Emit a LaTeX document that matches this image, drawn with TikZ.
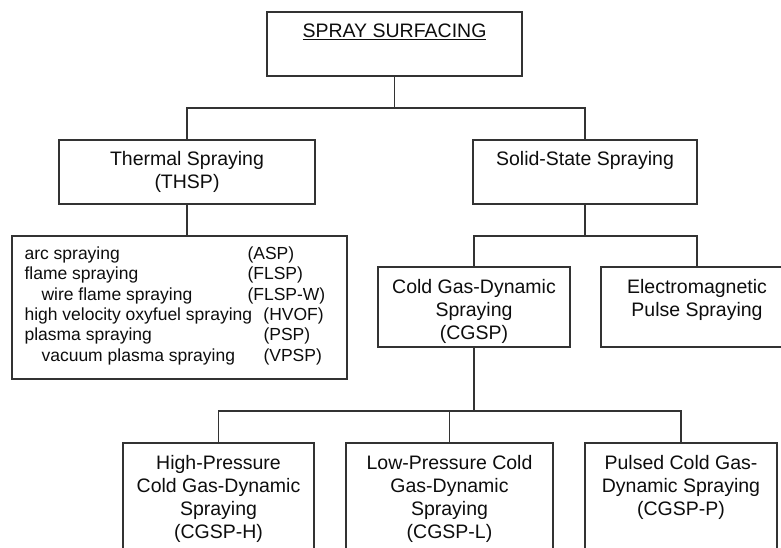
\documentclass[tikz,border=0pt]{standalone}
\usepackage{fontspec}
\setmainfont{Liberation Sans}
\usepackage{tikz}
\usetikzlibrary{positioning}

\newcommand{\boxfont}{\fontsize{19.5}{23}\selectfont}
\newcommand{\listfont}{\fontsize{17.5}{20.4}\selectfont}
\newcommand{\entry}[3]{\makebox[#1][l]{#2}#3}

\begin{document}
\begin{tikzpicture}[ x = 1pt, y = -1pt
                     , box/.style = { rectangle
                                    , draw = black!80
                                    , line width = 1.3pt
                                    , inner sep = 0pt }
                     , lbl/.style = { inner sep = 0pt
                                    , align = center
                                    , text = black!95
                                    , font = \boxfont }
                     , link/.style = { draw = black!80, line width = 1.3pt }
                     ]
  \useasboundingbox (0,0) rectangle (781,548);
  \clip (0,0) rectangle (781,548);

  \node (spray) [box, minimum width = 255pt, minimum height = 64pt] at (394.5,44) {};
  \node (spray-t) [lbl, below = 12pt of spray.north] {\underline{SPRAY SURFACING}};

  \node (thsp) [box, minimum width = 256pt, minimum height = 64pt] at (187,172) {};
  \node (thsp-t) [lbl, below = 12pt of thsp.north] {Thermal Spraying\\(THSP)};

  \node (solid) [box, minimum width = 224pt, minimum height = 64pt] at (585,172) {};
  \node (solid-t) [lbl, below = 12pt of solid.north] {Solid-State Spraying};

  \node (thlist) [box, minimum width = 335pt, minimum height = 143pt] at (179.5,307.5) {};
  \node (thlist-t) [ inner sep = 0pt, align = left, text = black!95, font = \listfont
                   , below right = 11pt and 13pt of thlist.north west]
  { \entry{223pt}{arc spraying}{(ASP)}\\
    \entry{223pt}{flame spraying}{(FLSP)}\\
    \entry{223pt}{\hspace*{17pt}wire flame spraying}{(FLSP-W)}\\
    \entry{239pt}{high velocity oxyfuel spraying}{(HVOF)}\\
    \entry{239pt}{plasma spraying}{(PSP)}\\
    \entry{239pt}{\hspace*{17pt}vacuum plasma spraying}{(VPSP)} };

  \node (cgsp) [box, minimum width = 192pt, minimum height = 80pt] at (474,307) {};
  \node (cgsp-t) [lbl, below = 13pt of cgsp.north] {Cold Gas-Dynamic\\Spraying\\(CGSP)};

  \node (emps) [box, minimum width = 192pt, minimum height = 80pt] at (697,307) {};
  \node (emps-t) [lbl, below = 13pt of emps.north] {Electromagnetic\\Pulse Spraying};

  \node (cgsph) [box, minimum width = 191pt, minimum height = 120pt] at (218.5,503) {};
  \node (cgsph-t) [lbl, below = 13pt of cgsph.north] {High-Pressure\\Cold Gas-Dynamic\\Spraying\\(CGSP-H)};

  \node (cgspl) [box, minimum width = 207pt, minimum height = 120pt] at (449.5,503) {};
  \node (cgspl-t) [lbl, below = 13pt of cgspl.north] {Low-Pressure Cold\\Gas-Dynamic\\Spraying\\(CGSP-L)};

  \node (cgspp) [box, minimum width = 192pt, minimum height = 120pt] at (681,503) {};
  \node (cgspp-t) [lbl, below = 13pt of cgspp.north] {Pulsed Cold Gas-\\Dynamic Spraying\\(CGSP-P)};

  \coordinate (sj) at (394.5,108);
  \draw[link] (spray.south) -- (sj);
  \draw[link] (thsp.north) |- (sj) -| (solid.north);
  \draw[link] (thsp.south) -- (thsp.south |- thlist.north);

  \coordinate (ssj) at (585,236);
  \draw[link] (solid.south) -- (ssj);
  \draw[link] (cgsp.north) |- (ssj) -| (emps.north);

  \coordinate (cj) at (474,411);
  \draw[link] (cgsp.south) -- (cj);
  \draw[link] (cgsph.north) |- (cj) -| (cgspp.north);
  \draw[link] (cgspl.north) -- (cgspl.north |- cj);

\end{tikzpicture}
\end{document}
